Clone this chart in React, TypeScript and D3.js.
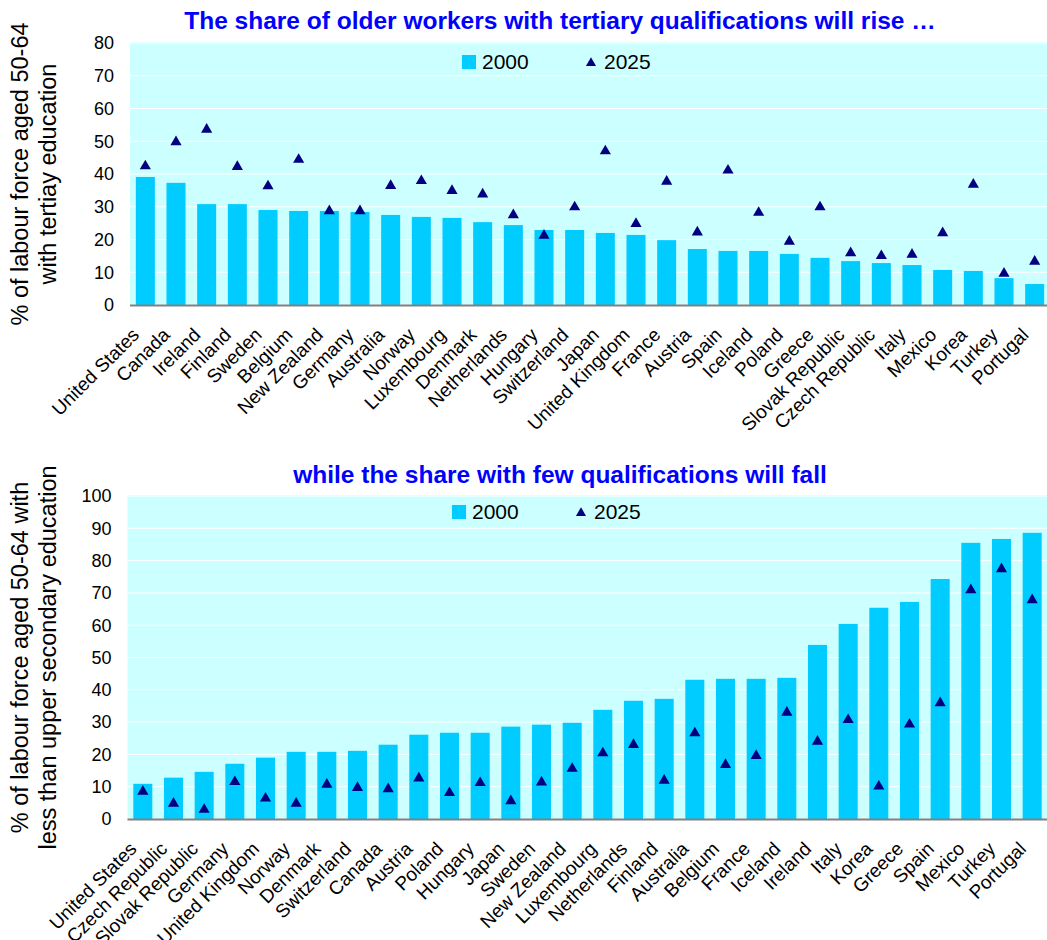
import React from "react";
import * as d3 from "d3";

const topCountries = ["United States","Canada","Ireland","Finland","Sweden","Belgium","New Zealand","Germany","Australia","Norway","Luxembourg","Denmark","Netherlands","Hungary","Switzerland","Japan","United Kingdom","France","Austria","Spain","Iceland","Poland","Greece","Slovak Republic","Czech Republic","Italy","Mexico","Korea","Turkey","Portugal"];
const top2000 = [39.1,37.3,30.8,30.8,29.0,28.7,28.7,28.4,27.5,26.9,26.6,25.3,24.4,22.9,22.9,22.0,21.4,19.8,17.1,16.5,16.5,15.6,14.4,13.4,12.8,12.2,10.7,10.4,8.2,6.4];
const top2025 = [42.4,49.8,53.6,42.2,36.3,44.4,28.7,28.7,36.4,37.9,34.9,33.8,27.5,21.2,29.9,47.0,24.8,37.7,22.2,41.1,28.2,19.4,29.9,15.9,15.0,15.4,22.0,36.8,9.6,13.3];
const topTicks = [0,10,20,30,40,50,60,70,80];

const botCountries = ["United States","Czech Republic","Slovak Republic","Germany","United Kingdom","Norway","Denmark","Switzerland","Canada","Austria","Poland","Hungary","Japan","Sweden","New Zealand","Luxembourg","Netherlands","Finland","Australia","Belgium","France","Iceland","Ireland","Italy","Korea","Greece","Spain","Mexico","Turkey","Portugal"];
const bot2000 = [10.9,12.8,14.6,17.1,19.0,20.8,20.8,21.1,23.0,26.1,26.7,26.7,28.6,29.2,29.8,33.8,36.6,37.2,43.1,43.4,43.4,43.7,53.9,60.4,65.4,67.2,74.3,85.5,86.7,88.6];
const bot2025 = [8.5,4.8,2.9,11.5,6.4,4.8,10.7,9.7,9.3,12.6,8.1,11.2,5.6,11.4,15.6,20.4,23.0,11.9,26.6,16.8,19.6,33.0,24.0,30.7,10.1,29.3,35.9,70.9,77.4,67.8];
const botTicks = [0,10,20,30,40,50,60,70,80,90,100];

const seriesNames = ["2000", "2025"];

const FONT = "Arial, 'Liberation Sans', sans-serif";
const BAR = "#00CCFF";
const BG = "#CCFFFF";
const TRI = "#000080";
const TITLE = "#0000FF";

type PanelProps = {
  countries: string[];
  v2000: number[];
  v2025: number[];
  ticks: number[];
  yMax: number;
  left: number;
  right: number;
  top: number;
  bottom: number;
  title: string;
  titleY: number;
  yTitle: string[];
  legendY: number;
  legendX: number;
};

function Panel(p: PanelProps) {
  const x = d3.scaleBand<string>().domain(p.countries).range([p.left, p.right]).paddingInner(0.38).paddingOuter(0.19);
  const y = d3.scaleLinear().domain([0, p.yMax]).range([p.bottom, p.top]);
  const tri = d3.symbol().type(d3.symbolTriangle).size(54)() as string;
  const triLeg = d3.symbol().type(d3.symbolTriangle).size(44)() as string;
  const yMid = (p.top + p.bottom) / 2;
  return (
    <g>
      <text x={560} y={p.titleY} textAnchor="middle" fontFamily={FONT} fontWeight="bold" fontSize={24.5} fill={TITLE}>{p.title}</text>
      <rect x={p.left} y={p.top - 1} width={p.right - p.left} height={p.bottom - p.top + 1} fill={BG} />
      {p.ticks.map((t) => (
        <line key={"g" + t} x1={p.left} x2={p.right} y1={y(t)} y2={y(t)} stroke="#ffffff" strokeWidth={1} />
      ))}
      {p.ticks.map((t) => (
        <text key={"t" + t} x={p.left - 16} y={y(t)} dy="0.35em" textAnchor="end" fontFamily={FONT} fontSize={18} fill="#000">{t}</text>
      ))}
      {p.countries.map((c, i) => (
        <rect key={"b" + c} x={x(c)} y={y(p.v2000[i])} width={x.bandwidth()} height={y(0) - y(p.v2000[i])} fill={BAR} />
      ))}
      <line x1={p.left} x2={p.right} y1={p.bottom + 0.5} y2={p.bottom + 0.5} stroke="#808080" strokeWidth={2} />
      {p.countries.map((c, i) => (
        <path key={"m" + c} d={tri} transform={`translate(${(x(c) as number) + x.bandwidth() / 2},${y(p.v2025[i])})`} fill={TRI} />
      ))}
      {p.countries.map((c) => {
        const cx = (x(c) as number) + x.bandwidth() / 2 - 5;
        const cy = p.bottom + 31;
        return (
          <text key={"l" + c} x={cx} y={cy} textAnchor="end" fontFamily={FONT} fontSize={19} fill="#000" transform={`rotate(-45,${cx},${cy})`}>{c}</text>
        );
      })}
      {/* legend */}
      <rect x={p.legendX} y={p.legendY - 14} width={14} height={14} fill={BAR} />
      <text x={p.legendX + 20} y={p.legendY} fontFamily={FONT} fontSize={21} fill="#000">{seriesNames[0]}</text>
      <path d={triLeg} transform={`translate(${p.legendX + 129},${p.legendY - 6})`} fill={TRI} />
      <text x={p.legendX + 142} y={p.legendY} fontFamily={FONT} fontSize={21} fill="#000">{seriesNames[1]}</text>
      {/* y title */}
      <text transform={`translate(28,${yMid}) rotate(-90)`} textAnchor="middle" fontFamily={FONT} fontSize={23.5} fill="#000">{p.yTitle[0]}</text>
      <text transform={`translate(56,${yMid}) rotate(-90)`} textAnchor="middle" fontFamily={FONT} fontSize={23.5} fill="#000">{p.yTitle[1]}</text>
    </g>
  );
}

export default function App() {
  return (
    <svg width={1047} height={940} style={{ position: "absolute", left: 0, top: 0, background: "#fff" }}>
      <rect width={1047} height={940} fill="#fff" />
      <Panel
        countries={topCountries}
        v2000={top2000}
        v2025={top2025}
        ticks={topTicks}
        yMax={80}
        left={130}
        right={1050}
        top={43}
        bottom={305}
        title="The share of older workers with tertiary qualifications will rise …"
        titleY={29}
        yTitle={["% of labour force aged 50-64", "with tertiay education"]}
        legendX={462}
        legendY={69}
      />
      <Panel
        countries={botCountries}
        v2000={bot2000}
        v2025={bot2025}
        ticks={botTicks}
        yMax={100}
        left={127.5}
        right={1047.5}
        top={496}
        bottom={819}
        title="while the share with few qualifications will fall"
        titleY={483}
        yTitle={["% of labour force aged 50-64 with", "less than upper secondary education"]}
        legendX={452}
        legendY={519}
      />
    </svg>
  );
}
